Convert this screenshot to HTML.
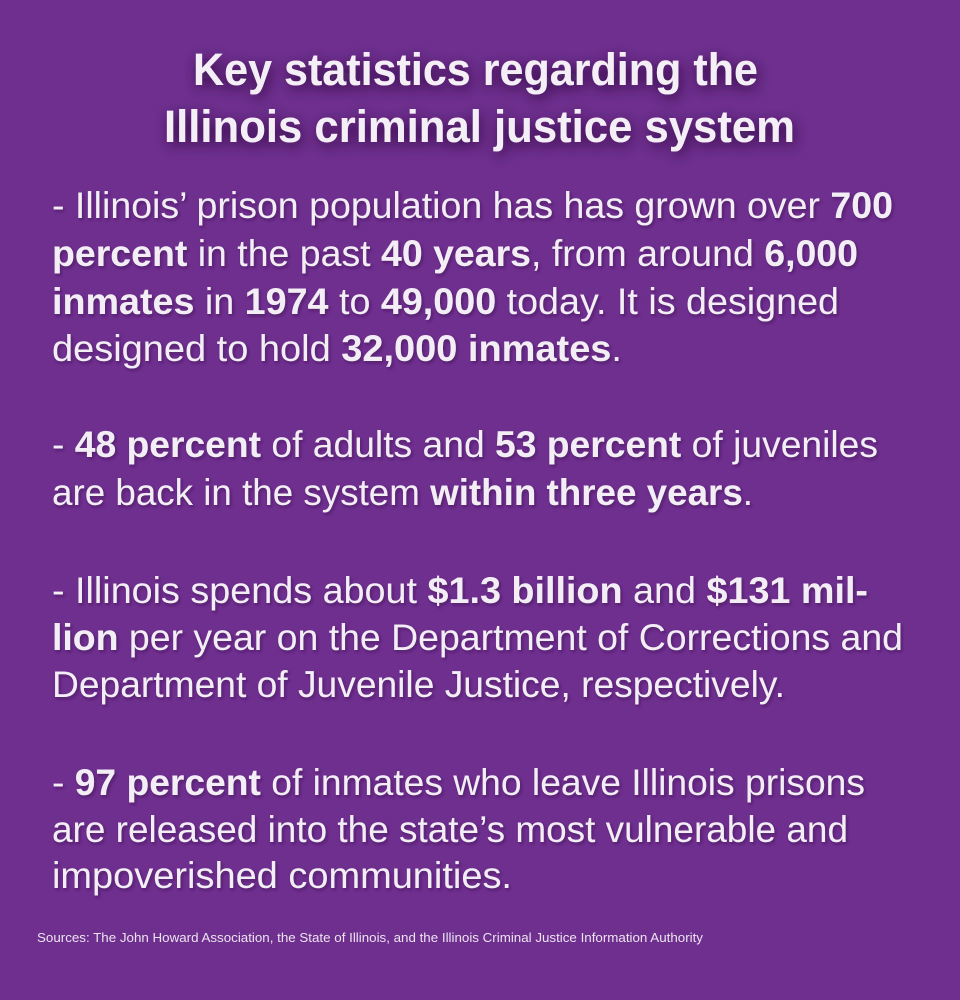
<!DOCTYPE html>
<html>
<head>
<meta charset="utf-8">
<style>
  html,body{margin:0;padding:0;background:#6f2f8f;}
  svg{display:block;}
  .t{font-family:"Liberation Sans",sans-serif;font-weight:bold;font-size:45px;fill:#f4eef6;}
  .b{font-family:"Liberation Sans",sans-serif;font-size:37px;fill:#f3edf5;}
  .b tspan.k{font-weight:bold;}
  .s{font-family:"Liberation Sans",sans-serif;font-size:13px;fill:#ece4f0;}
</style>
</head>
<body>
<svg width="960" height="1000" viewBox="0 0 960 1000" xmlns="http://www.w3.org/2000/svg">
  <defs>
    <filter id="glow" x="-20%" y="-60%" width="140%" height="220%">
      <feDropShadow dx="2" dy="4" stdDeviation="7" flood-color="#2a0838" flood-opacity="0.9"/>
    </filter>
    <filter id="sh" x="-5%" y="-30%" width="110%" height="160%">
      <feDropShadow dx="1.5" dy="2" stdDeviation="1.5" flood-color="#3a1250" flood-opacity="0.6"/>
    </filter>
  </defs>
  <rect width="960" height="1000" fill="#6f2f8f"/>

  <g filter="url(#glow)">
    <text class="t" x="193" y="85" textLength="565" lengthAdjust="spacingAndGlyphs">Key statistics regarding the</text>
    <text class="t" x="164" y="142" textLength="631" lengthAdjust="spacingAndGlyphs">Illinois criminal justice system</text>
  </g>

  <g filter="url(#sh)">
    <text class="b" x="52" y="218" textLength="841" lengthAdjust="spacingAndGlyphs">- Illinois’ prison population has has grown over <tspan class="k">700</tspan></text>
    <text class="b" x="52" y="266" textLength="806" lengthAdjust="spacingAndGlyphs"><tspan class="k">percent</tspan> in the past <tspan class="k">40 years</tspan>, from around <tspan class="k">6,000</tspan></text>
    <text class="b" x="52" y="314" textLength="787" lengthAdjust="spacingAndGlyphs"><tspan class="k">inmates</tspan> in <tspan class="k">1974</tspan> to <tspan class="k">49,000</tspan> today. It is designed</text>
    <text class="b" x="52" y="361" textLength="570" lengthAdjust="spacingAndGlyphs">designed to hold <tspan class="k">32,000 inmates</tspan>.</text>

    <text class="b" x="52" y="457" textLength="826" lengthAdjust="spacingAndGlyphs">- <tspan class="k">48 percent</tspan> of adults and <tspan class="k">53 percent</tspan> of juveniles</text>
    <text class="b" x="52" y="505" textLength="701" lengthAdjust="spacingAndGlyphs">are back in the system <tspan class="k">within three years</tspan>.</text>

    <text class="b" x="52" y="603" textLength="816" lengthAdjust="spacingAndGlyphs">- Illinois spends about <tspan class="k">$1.3 billion</tspan> and <tspan class="k">$131 mil-</tspan></text>
    <text class="b" x="52" y="650" textLength="851" lengthAdjust="spacingAndGlyphs"><tspan class="k">lion</tspan> per year on the Department of Corrections and</text>
    <text class="b" x="52" y="697" textLength="733" lengthAdjust="spacingAndGlyphs">Department of Juvenile Justice, respectively.</text>

    <text class="b" x="52" y="795" textLength="813" lengthAdjust="spacingAndGlyphs">- <tspan class="k">97 percent</tspan> of inmates who leave Illinois prisons</text>
    <text class="b" x="52" y="842" textLength="796" lengthAdjust="spacingAndGlyphs">are released into the state’s most vulnerable and</text>
    <text class="b" x="52" y="888" textLength="460" lengthAdjust="spacingAndGlyphs">impoverished communities.</text>
  </g>

  <text class="s" x="37" y="942" textLength="666" lengthAdjust="spacingAndGlyphs">Sources:  The John Howard Association, the State of Illinois, and the Illinois Criminal Justice Information Authority</text>
</svg>
</body>
</html>
